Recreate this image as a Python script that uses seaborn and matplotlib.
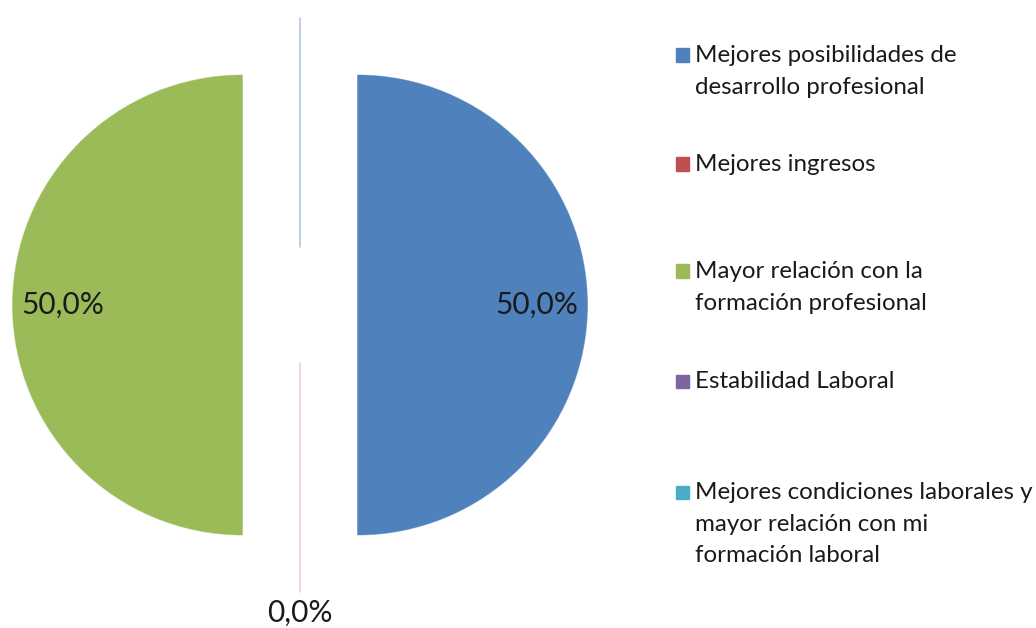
import matplotlib
matplotlib.use("Agg")
import matplotlib.pyplot as plt
from matplotlib.patches import Rectangle
import numpy as np
import seaborn as sns

categories = [
    "Mejores posibilidades de\ndesarrollo profesional",
    "Mejores ingresos",
    "Mayor relación con la\nformación profesional",
    "Estabilidad Laboral",
    "Mejores condiciones laborales y\nmayor relación con mi\nformación laboral",
]
values = [50.0, 0.0, 50.0, 0.0, 0.0]
colors = ["#4F81BD", "#C0504D", "#9BBB59", "#8064A2", "#4BACC6"]
show_label = [True, True, True, False, False]

sns.set_theme(style="white")
plt.rcParams["font.family"] = ["Lato", "DejaVu Sans"]

W, H = 1036, 628
fig = plt.figure(figsize=(W / 100, H / 100), dpi=100)
# pie centre at (300, 305) px, radius 230 px
lim = 1.3
rad_px = 230
span = 2 * lim * rad_px
cx, cy = 300, H - 305
ax = fig.add_axes([(cx - span / 2) / W, (cy - span / 2) / H, span / W, span / H])

pal = sns.color_palette(colors)
wedges, _ = ax.pie(
    values,
    colors=pal,
    startangle=90,
    counterclock=False,
    explode=[0.25] * len(values),
    radius=1.0,
    wedgeprops=dict(linewidth=0.7),
)
for w, c in zip(wedges, pal):
    w.set_edgecolor((*c, 0.45))
ax.set_xlim(-lim, lim)
ax.set_ylim(-lim, lim)
ax.set_aspect("equal")
ax.axis("off")

total = sum(values)
for w, v, show in zip(wedges, values, show_label):
    if not show:
        continue
    ang = np.deg2rad((w.theta1 + w.theta2) / 2)
    x0, y0 = w.center
    d = 0.78 if v > 0 else 1.09
    ax.text(x0 + d * np.cos(ang), y0 + d * np.sin(ang),
            f"{v / total * 100:.1f}%".replace(".", ","),
            ha="center", va="center", fontsize=21.5, color="#1a1a1a", clip_on=False)

# legend
legend_y = [55, 164, 271, 381, 492]
for lab, c, y in zip(categories, pal, legend_y):
    fig.patches.append(Rectangle((676 / W, (H - y - 6.5) / H), 13 / W, 13 / H,
                                 transform=fig.transFigure, color=c))
    fig.text(695 / W, (H - y + 10) / H, lab, ha="left", va="top", fontsize=17.4,
             color="#1a1a1a", linespacing=1.63,
             transform=fig.transFigure)

fig.savefig("out.png", dpi=100)
